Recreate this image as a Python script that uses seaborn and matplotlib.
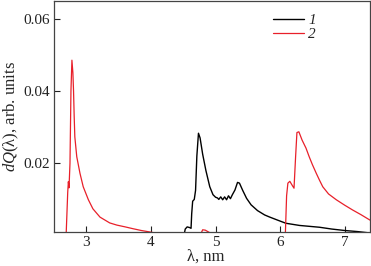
import matplotlib
matplotlib.use('Agg')
import matplotlib.pyplot as plt
import seaborn as sns
import pandas as pd

# Curve 1 (black)
x_1 = [4.45, 4.51, 4.53, 4.56, 4.60, 4.62, 4.63, 4.645, 4.67, 4.69, 4.71, 4.735, 4.76, 4.80,
       4.85, 4.91, 4.96, 5.00, 5.03, 5.05, 5.08, 5.11, 5.14, 5.17, 5.20, 5.23, 5.26, 5.30,
       5.34, 5.37, 5.42, 5.48, 5.55, 5.65, 5.76, 5.84, 6.00, 6.09, 6.30, 6.61, 6.80, 7.00,
       7.20, 7.30, 7.40]
y_1 = [0.0, 0.0, 0.0018, 0.0024, 0.0022, 0.0020, 0.0060, 0.0095, 0.0100, 0.0125, 0.0220,
       0.0283, 0.0270, 0.0225, 0.0180, 0.0135, 0.0113, 0.0106, 0.0104, 0.0100, 0.0107,
       0.0099, 0.0107, 0.0099, 0.0110, 0.0102, 0.0113, 0.0126, 0.0147, 0.0145, 0.0125,
       0.0103, 0.0085, 0.0069, 0.0057, 0.0051, 0.0040, 0.0034, 0.0028, 0.0023, 0.0018,
       0.0014, 0.0011, 0.0009, 0.0007]

# Curve 2 (red)
x_2 = [2.60, 2.685, 2.71, 2.72, 2.73, 2.745, 2.76, 2.775, 2.79, 2.80, 2.81, 2.82, 2.85,
       2.90, 2.95, 3.03, 3.10, 3.21, 3.36, 3.47, 3.60, 3.72, 3.85, 3.98, 4.10, 4.30, 4.76,
       4.80, 4.84, 4.90, 4.95, 6.08, 6.10, 6.12, 6.15, 6.19, 6.215, 6.24, 6.26, 6.29, 6.34,
       6.40, 6.45, 6.50, 6.56, 6.61, 6.66, 6.75, 6.87, 7.00, 7.12, 7.25, 7.38, 7.42]
y_2 = [0.0, 0.0, 0.0120, 0.0149, 0.0132, 0.0200, 0.0400, 0.0485, 0.0450, 0.0400, 0.0330,
       0.0273, 0.0218, 0.0172, 0.0135, 0.0099, 0.0074, 0.0051, 0.0035, 0.0029, 0.0024,
       0.0019, 0.0014, 0.0010, 0.0006, 0.0, 0.0, 0.0016, 0.0015, 0.0009, 0.0, 0.0, 0.0110,
       0.0145, 0.0150, 0.0138, 0.0131, 0.0220, 0.0285, 0.0287, 0.0264, 0.0242, 0.0218,
       0.0196, 0.0172, 0.0153, 0.0135, 0.0115, 0.0099, 0.0084, 0.0071, 0.0058, 0.0044,
       0.0040]

x_ticks = [3, 4, 5, 6, 7]
y_ticks = [0.02, 0.04, 0.06]

sns.set_style("ticks")
plt.rcParams['font.family'] = ['Liberation Serif', 'DejaVu Serif']
plt.rcParams['mathtext.fontset'] = 'custom'
plt.rcParams['mathtext.it'] = 'Liberation Serif:italic'
plt.rcParams['mathtext.rm'] = 'Liberation Serif'

df1 = pd.DataFrame({'x': x_1, 'y': y_1})
df2 = pd.DataFrame({'x': x_2, 'y': y_2})

fig = plt.figure(figsize=(3.71, 2.66), dpi=100)
ax = fig.add_axes([0.146, 0.128, 0.851, 0.870])

sns.lineplot(data=df1, x='x', y='y', color='black', linewidth=1.0, label='1', ax=ax, sort=False)
sns.lineplot(data=df2, x='x', y='y', color='#e8202a', linewidth=0.9, label='2', ax=ax, sort=False)

ax.set_xlim(2.5, 7.39)
ax.set_ylim(0.001, 0.065)
ax.set_xticks(x_ticks)
ax.set_xticklabels([str(t) for t in x_ticks])
ax.set_yticks(y_ticks)
ax.set_yticklabels(['%.2f' % t for t in y_ticks])
ax.tick_params(direction='in', length=4, width=0.8, labelsize=11, colors='#222222', pad=3)

for s in ax.spines.values():
    s.set_color('#444444')
    s.set_linewidth(0.9)

ax.set_xlabel('λ, nm', fontsize=12, labelpad=0)
ax.xaxis.set_label_coords(0.479, -0.07)
ax.set_ylabel('$dQ$(λ), arb. units', fontsize=12, labelpad=2)

ax.legend(loc='upper left', bbox_to_anchor=(0.66, 0.99), frameon=False,
          prop={'style': 'italic', 'size': 11, 'family': 'Liberation Serif'},
          handlelength=2.0, handletextpad=0.3, labelspacing=0.0, borderpad=0.2)

plt.savefig('out.png', dpi=100)
